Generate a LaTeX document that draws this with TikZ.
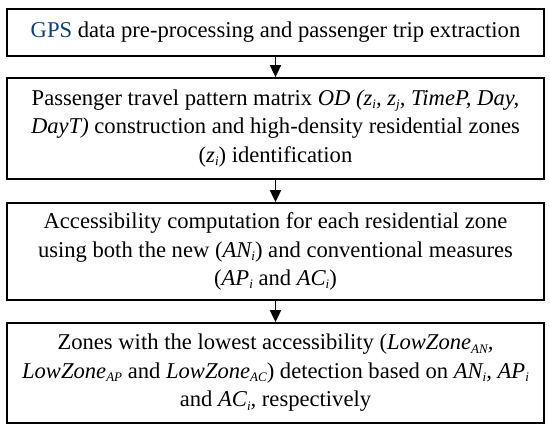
\documentclass[tikz,border=0pt]{standalone}
\usepackage{fontspec}
\setmainfont{Liberation Serif}
\usetikzlibrary{arrows.meta}
\definecolor{gpsblue}{RGB}{15,65,115}
\newcommand{\lsub}[1]{\raisebox{-0.3ex}{\fontsize{13}{13}\selectfont #1}}
\begin{document}
\begin{tikzpicture}[x=1pt,y=-1pt,
  box/.style={draw, line width=1.7pt, minimum width=537pt, align=center, inner sep=0pt,
    font=\fontsize{22.6}{28.5}\selectfont},
  flow/.style={-{Triangle[length=12pt,width=11pt]}, line width=1.6pt}]
\useasboundingbox (0,0) rectangle (550,433);
\node[box, minimum height=47pt] (b1) at (275.5,32.5)
  {\textcolor{gpsblue}{GPS} data pre-processing and passenger trip extraction};
\node[box, minimum height=101pt] (b2) at (275.5,128.5)
  {Passenger travel pattern matrix \textit{OD (z\lsub{i}, z\lsub{j}, TimeP, Day,}\\
   \textit{DayT)} construction and high-density residential zones\\
   (\textit{z\lsub{i}}) identification};
\node[box, minimum height=97pt] (b3) at (275.5,251.5)
  {Accessibility computation for each residential zone\\
   using both the new (\textit{AN\lsub{i}}) and conventional measures\\
   (\textit{AP\lsub{i}} and \textit{AC\lsub{i}})};
\node[box, minimum height=100pt] (b4) at (275.5,373)
  {Zones with the lowest accessibility (\textit{LowZone\lsub{AN},}\\
   \textit{LowZone\lsub{AP}} and \textit{LowZone\lsub{AC}}) detection based on \textit{AN\lsub{i}, AP\lsub{i}}\\
   and \textit{AC\lsub{i},} respectively};
\draw[flow] (b1) -- (b2);
\draw[flow] (b2) -- (b3);
\draw[flow] (b3) -- (b4);
\end{tikzpicture}
\end{document}
